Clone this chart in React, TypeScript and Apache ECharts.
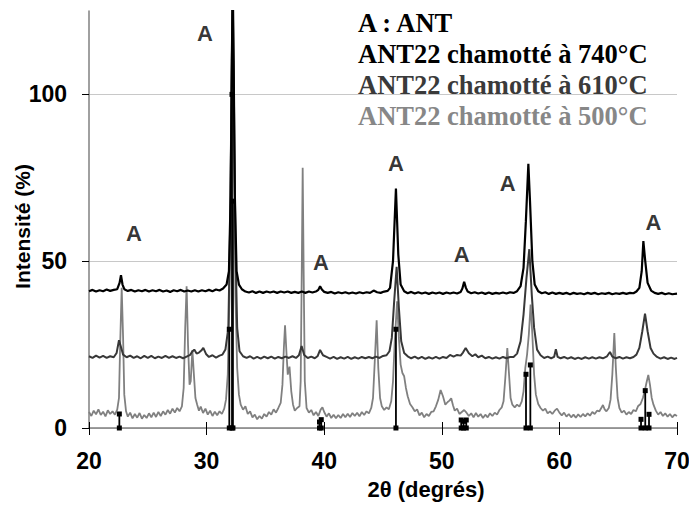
import React, { useEffect, useRef } from 'react';
import * as echarts from 'echarts';

const ARIAL = 'Arial, "Liberation Sans", Helvetica, sans-serif';
const TIMES = '"Times New Roman", "Liberation Serif", serif';

const xTickValues = [20, 30, 40, 50, 60, 70];
const yLabelValues = [0, 50, 100];

const legendLines = [
  'A : ANT',
  'ANT22 chamotté à 740°C',
  'ANT22 chamotté à 610°C',
  'ANT22 chamotté à 500°C',
];
const legendColors = ['#000000', '#000000', '#3a3a3a', '#878787'];

// "A" peak markers (2θ, intensity)
const peakLabels: [number, number][] = [
  [23.83, 58.4], [29.86, 118.3], [39.73, 49.7], [46.1, 79.3],
  [51.7, 52.1], [55.6, 73.4], [68.0, 61.7],
];

// ANT reference sticks
const stickX = [22.58, 31.93, 32.16, 32.24, 39.6, 39.75, 46.1, 51.65, 51.85, 52.08, 57.16, 57.53, 66.94, 67.3, 67.62];
const stickH = [4.2, 29.6, 100, 68, 1.8, 2.5, 29.6, 2.4, 2.0, 2.4, 16.1, 18.9, 2.6, 11.2, 4.1];

// ANT22 chamotté à 740°C
const trace740: [number, number][] = [
  [20.0, 41.0], [20.3, 41.4], [20.6, 40.9], [20.9, 41.3], [21.2, 41.0], [21.5, 41.5], [21.8, 41.1], [22.1, 41.4], [22.4, 41.6],
  [22.6, 43.5], [22.72, 45.8], [22.85, 43.0], [23.0, 41.6], [23.3, 41.1], [23.6, 41.4], [23.9, 40.9], [24.2, 41.3], [24.5, 41.0],
  [24.8, 41.4], [25.1, 40.9], [25.4, 41.3], [25.7, 41.0], [26.0, 41.4], [26.3, 40.9], [26.6, 41.2], [26.9, 40.8], [27.2, 41.3],
  [27.5, 41.0], [27.8, 41.4], [28.1, 40.9], [28.4, 41.2], [28.7, 40.9], [29.0, 41.3], [29.3, 40.9], [29.6, 41.3], [29.9, 41.0],
  [30.2, 41.4], [30.5, 41.0], [30.8, 41.5], [31.1, 41.2], [31.4, 41.8], [31.7, 43.0], [31.9, 47.0], [32.05, 70], [32.15, 110],
  [32.22, 135], [32.3, 110], [32.4, 70], [32.55, 47.0], [32.75, 43.0], [33.0, 41.6], [33.3, 40.9], [33.6, 40.6], [33.9, 41.0],
  [34.2, 40.5], [34.5, 40.9], [34.8, 40.5], [35.1, 40.9], [35.4, 40.6], [35.7, 40.9], [36.0, 40.5], [36.3, 40.9], [36.6, 40.6],
  [36.9, 40.9], [37.2, 40.5], [37.5, 40.8], [37.8, 40.5], [38.1, 40.9], [38.4, 40.5], [38.7, 40.9], [39.0, 40.6], [39.35, 41.0],
  [39.5, 41.4], [39.65, 42.5], [39.8, 41.5], [40.0, 40.8], [40.3, 40.5], [40.6, 40.8], [40.9, 40.3], [41.2, 40.7], [41.5, 40.4],
  [41.8, 40.7], [42.1, 40.3], [42.4, 40.6], [42.7, 40.3], [43.0, 40.7], [43.3, 40.4], [43.6, 40.7], [43.9, 40.5], [44.2, 41.2],
  [44.5, 40.7], [44.8, 40.5], [45.1, 40.9], [45.4, 41.1], [45.6, 42.0], [45.85, 50], [46.1, 71.8], [46.3, 52], [46.5, 43.0],
  [46.8, 41.0], [47.1, 40.4], [47.4, 40.8], [47.7, 40.3], [48.0, 40.7], [48.3, 40.3], [48.6, 40.6], [48.9, 40.2], [49.2, 40.6],
  [49.5, 40.3], [49.8, 40.6], [50.1, 40.2], [50.4, 40.6], [50.7, 40.3], [51.0, 40.6], [51.3, 40.3], [51.6, 40.8], [51.75, 41.8],
  [51.9, 43.8], [52.05, 42.0], [52.2, 40.9], [52.5, 40.4], [52.8, 40.7], [53.1, 40.3], [53.4, 40.6], [53.7, 40.2], [54.0, 40.6],
  [54.3, 40.2], [54.6, 40.5], [54.9, 40.3], [55.2, 40.6], [55.5, 40.3], [55.8, 40.7], [56.1, 40.5], [56.4, 41.0], [56.7, 42.5],
  [56.95, 48], [57.15, 62], [57.36, 79.2], [57.5, 68], [57.7, 50], [57.9, 43.0], [58.2, 41.0], [58.5, 40.4], [58.8, 40.7],
  [59.1, 40.2], [59.4, 40.6], [59.7, 40.2], [60.0, 40.5], [60.3, 40.2], [60.6, 40.5], [60.9, 40.1], [61.2, 40.5], [61.5, 40.2],
  [61.8, 40.4], [62.1, 40.1], [62.4, 40.5], [62.7, 40.2], [63.0, 40.5], [63.3, 40.1], [63.6, 40.4], [63.9, 40.2], [64.2, 40.5],
  [64.5, 40.1], [64.8, 40.4], [65.1, 40.2], [65.4, 40.5], [65.7, 40.2], [66.0, 40.5], [66.3, 40.4], [66.55, 40.9], [66.8, 42.0],
  [67.0, 47.0], [67.14, 56.0], [67.3, 50.0], [67.5, 43.5], [67.8, 41.2], [68.1, 40.5], [68.4, 40.2], [68.7, 40.5], [69.0, 40.1],
  [69.3, 40.4], [69.6, 40.1], [70.0, 40.3],
];

// ANT22 chamotté à 610°C
const trace610: [number, number][] = [
  [20.0, 21.5], [20.3, 21.0], [20.6, 21.7], [20.9, 21.1], [21.2, 21.6], [21.5, 21.0], [21.8, 21.5], [22.1, 21.2], [22.35, 22.5],
  [22.55, 26.3], [22.7, 24.5], [22.9, 22.0], [23.2, 21.2], [23.5, 21.7], [23.8, 21.0], [24.1, 21.5], [24.4, 20.9], [24.7, 21.6],
  [25.0, 21.0], [25.3, 21.6], [25.6, 20.9], [25.9, 21.4], [26.2, 21.0], [26.5, 21.6], [26.8, 21.0], [27.1, 21.5], [27.4, 21.0],
  [27.7, 21.4], [28.0, 20.9], [28.3, 21.4], [28.6, 21.9], [28.75, 22.8], [28.95, 23.5], [29.15, 22.3], [29.35, 22.6], [29.55, 23.2],
  [29.72, 24.0], [29.95, 22.2], [30.2, 21.3], [30.5, 21.8], [30.8, 21.1], [31.1, 21.7], [31.35, 22.0], [31.6, 23.5], [31.85, 30],
  [32.0, 60], [32.15, 110], [32.22, 130], [32.32, 100], [32.45, 55], [32.6, 30], [32.8, 23.0], [33.1, 21.5], [33.4, 21.0],
  [33.7, 21.5], [34.0, 20.8], [34.3, 21.3], [34.6, 20.8], [34.9, 21.4], [35.2, 20.9], [35.5, 21.4], [35.8, 20.8], [36.1, 21.3],
  [36.4, 20.9], [36.7, 21.4], [37.0, 21.0], [37.3, 21.5], [37.6, 21.0], [37.85, 21.8], [38.08, 24.6], [38.3, 21.9], [38.6, 21.0],
  [38.9, 21.4], [39.2, 20.9], [39.45, 21.6], [39.65, 23.4], [39.9, 21.8], [40.2, 21.3], [40.5, 20.8], [40.8, 21.3], [41.1, 20.7],
  [41.4, 21.2], [41.7, 20.8], [42.0, 21.3], [42.3, 20.7], [42.6, 21.2], [42.9, 20.8], [43.2, 21.3], [43.5, 20.9], [43.8, 21.3],
  [44.1, 20.9], [44.4, 21.4], [44.7, 21.0], [45.0, 21.6], [45.3, 21.8], [45.55, 23.0], [45.75, 27], [45.95, 38], [46.16, 48.3],
  [46.35, 36], [46.55, 26], [46.8, 22.5], [47.1, 21.5], [47.4, 20.9], [47.7, 21.4], [48.0, 20.8], [48.3, 21.3], [48.6, 20.7],
  [48.9, 21.2], [49.2, 20.8], [49.5, 21.3], [49.8, 20.8], [50.1, 21.3], [50.4, 21.0], [50.7, 21.9], [51.0, 21.4], [51.3, 21.9],
  [51.6, 21.7], [51.8, 22.6], [52.03, 24.0], [52.3, 22.4], [52.6, 21.5], [52.85, 22.1], [53.1, 21.2], [53.4, 21.7], [53.7, 20.9],
  [54.0, 21.3], [54.3, 20.8], [54.6, 21.2], [54.9, 20.8], [55.2, 21.3], [55.5, 20.9], [55.8, 21.3], [56.1, 21.3], [56.4, 22.3],
  [56.7, 26], [56.95, 34], [57.2, 45], [57.44, 53.6], [57.65, 40], [57.85, 30], [58.1, 23.5], [58.4, 21.8], [58.7, 21.0],
  [59.0, 21.4], [59.3, 20.9], [59.55, 21.3], [59.7, 23.6], [59.85, 21.3], [60.1, 20.9], [60.4, 21.3], [60.7, 20.8], [61.0, 21.2],
  [61.3, 20.7], [61.6, 21.1], [61.9, 20.7], [62.2, 21.2], [62.5, 20.8], [62.8, 21.2], [63.1, 20.8], [63.4, 21.2], [63.7, 20.9],
  [64.05, 21.5], [64.3, 22.8], [64.5, 21.4], [64.8, 20.9], [65.1, 21.3], [65.4, 20.8], [65.7, 21.2], [66.0, 20.9], [66.3, 21.3],
  [66.55, 22.0], [66.8, 24.0], [67.05, 29], [67.28, 34.3], [67.5, 29], [67.75, 24.0], [68.0, 22.3], [68.3, 21.3], [68.6, 20.8],
  [68.9, 21.2], [69.2, 20.7], [69.5, 21.1], [69.8, 20.7], [70.0, 21.0],
];

// ANT22 chamotté à 500°C
const trace500: [number, number][] = [
  [20.0, 4.8], [20.2, 3.6], [20.4, 5.2], [20.6, 4.1], [20.8, 5.6], [21.0, 3.9], [21.2, 4.9], [21.4, 3.5], [21.6, 5.3], [21.8, 4.2],
  [22.0, 5.0], [22.2, 4.0], [22.4, 5.5], [22.55, 9], [22.65, 25], [22.78, 42], [22.9, 27], [23.0, 10], [23.15, 5.0], [23.3, 3.4],
  [23.5, 4.6], [23.7, 2.9], [23.9, 4.2], [24.1, 3.1], [24.3, 4.5], [24.5, 2.8], [24.7, 3.9], [24.9, 3.0], [25.1, 4.4], [25.3, 3.2],
  [25.5, 4.6], [25.7, 3.3], [25.9, 4.8], [26.1, 3.6], [26.3, 5.0], [26.5, 4.0], [26.7, 5.4], [26.9, 4.3], [27.1, 5.8], [27.3, 4.6],
  [27.5, 6.0], [27.7, 5.0], [27.9, 6.5], [28.05, 12], [28.18, 30], [28.3, 42.5], [28.42, 25], [28.55, 13], [28.65, 14], [28.79, 23.4],
  [28.92, 16], [29.05, 9], [29.2, 7.0], [29.35, 5.2], [29.5, 6.4], [29.7, 4.5], [29.9, 5.8], [30.1, 4.0], [30.3, 5.2], [30.5, 3.6],
  [30.7, 4.9], [30.9, 3.8], [31.1, 5.0], [31.3, 4.2], [31.5, 5.8], [31.65, 8.5], [31.8, 16], [31.95, 40], [32.1, 100], [32.2, 130],
  [32.3, 100], [32.45, 40], [32.6, 18], [32.75, 10], [32.9, 7.0], [33.1, 5.5], [33.3, 6.5], [33.5, 4.2], [33.7, 5.0], [33.9, 3.2],
  [34.1, 4.0], [34.3, 2.6], [34.5, 3.6], [34.7, 2.8], [34.9, 4.2], [35.1, 3.4], [35.3, 4.8], [35.5, 4.0], [35.7, 5.6], [35.9, 4.6],
  [36.1, 6.0], [36.3, 7.5], [36.45, 13], [36.57, 24], [36.67, 30.8], [36.8, 22], [36.9, 16], [37.05, 18.4], [37.2, 11], [37.35, 7.0],
  [37.5, 5.2], [37.7, 6.0], [37.9, 6.5], [38.0, 14], [38.1, 50], [38.17, 78], [38.25, 48], [38.35, 14], [38.5, 6.0], [38.7, 4.6],
  [38.9, 5.4], [39.1, 3.8], [39.3, 4.8], [39.5, 3.6], [39.7, 5.5], [39.85, 6.2], [40.0, 4.8], [40.2, 3.4], [40.4, 4.4], [40.6, 3.0],
  [40.8, 4.0], [41.0, 2.9], [41.2, 3.9], [41.4, 3.0], [41.6, 4.2], [41.8, 3.2], [42.0, 4.3], [42.2, 3.3], [42.4, 4.5], [42.6, 3.6],
  [42.8, 4.6], [43.0, 3.5], [43.2, 4.8], [43.4, 3.9], [43.6, 5.0], [43.8, 4.4], [44.0, 6.0], [44.15, 9], [44.3, 20], [44.46, 32.3],
  [44.6, 18], [44.75, 9], [44.9, 6.5], [45.1, 5.4], [45.3, 6.2], [45.5, 5.6], [45.7, 8.0], [45.85, 14], [46.0, 26], [46.2, 38],
  [46.35, 27], [46.5, 19], [46.65, 16.5], [46.8, 15.5], [46.95, 12], [47.1, 9.5], [47.3, 7.2], [47.5, 6.2], [47.7, 5.0], [47.9, 5.6],
  [48.1, 3.8], [48.3, 4.6], [48.5, 3.2], [48.7, 4.2], [48.9, 3.6], [49.1, 4.8], [49.3, 5.0], [49.5, 6.5], [49.7, 8.5], [49.9, 11.4],
  [50.1, 9.5], [50.3, 7.0], [50.5, 7.8], [50.65, 8.2], [50.8, 8.9], [50.95, 6.8], [51.1, 5.2], [51.3, 5.8], [51.5, 4.2], [51.7, 4.8],
  [51.9, 5.4], [52.1, 4.6], [52.3, 3.6], [52.5, 4.4], [52.7, 3.2], [52.9, 4.5], [53.1, 3.4], [53.3, 4.2], [53.5, 3.0], [53.7, 4.0],
  [53.9, 3.2], [54.1, 4.4], [54.3, 3.6], [54.5, 4.6], [54.7, 4.0], [54.9, 5.4], [55.1, 6.2], [55.25, 8.0], [55.4, 15], [55.57, 24],
  [55.7, 17], [55.85, 9], [56.0, 7.0], [56.2, 6.2], [56.4, 7.0], [56.6, 6.4], [56.8, 8.0], [56.95, 11], [57.1, 18], [57.25, 22],
  [57.4, 28], [57.55, 37], [57.7, 28], [57.85, 16], [58.0, 10], [58.2, 7.2], [58.4, 6.0], [58.6, 5.2], [58.8, 5.8], [59.0, 4.4],
  [59.2, 5.0], [59.4, 4.2], [59.6, 5.2], [59.8, 5.8], [60.0, 4.6], [60.2, 3.8], [60.4, 4.6], [60.6, 3.4], [60.8, 4.2], [61.0, 3.2],
  [61.2, 4.0], [61.4, 3.1], [61.6, 4.1], [61.8, 3.3], [62.0, 4.2], [62.2, 3.5], [62.4, 4.4], [62.6, 3.7], [62.8, 4.8], [63.0, 4.2],
  [63.2, 5.2], [63.4, 5.0], [63.6, 6.2], [63.7, 6.9], [63.85, 5.6], [64.0, 5.0], [64.2, 6.0], [64.35, 8.5], [64.5, 16], [64.67, 28.5],
  [64.8, 18], [64.95, 9], [65.1, 6.0], [65.3, 4.6], [65.5, 5.2], [65.7, 4.0], [65.9, 4.8], [66.1, 4.2], [66.3, 5.4], [66.5, 5.0],
  [66.7, 6.6], [66.9, 7.2], [67.1, 9.0], [67.25, 11], [67.4, 13.5], [67.56, 15.9], [67.7, 13], [67.85, 9], [68.0, 7.0], [68.2, 5.2],
  [68.4, 4.0], [68.6, 4.8], [68.8, 3.6], [69.0, 4.4], [69.2, 3.4], [69.4, 4.2], [69.6, 3.2], [69.8, 4.0], [70.0, 3.6],
];

const boldArial = { fontFamily: ARIAL, fontWeight: 'bold' as const, color: '#000' };

export default function App() {
  const ref = useRef<HTMLDivElement>(null);

  useEffect(() => {
    if (!ref.current) return;
    const chart = echarts.init(ref.current, undefined, { renderer: 'svg' });

    const stickData = stickX.map((x, i) => [x, stickH[i]]);
    const legendY = [22.5, 54, 85, 116];

    chart.setOption({
      animation: false,
      backgroundColor: '#ffffff',
      grid: { left: 89, right: 12, top: 11, bottom: 77, containLabel: false, outerBoundsMode: 'none' },
      xAxis: [
        {
          type: 'value', min: 20, max: 70, interval: 10,
          axisLine: { onZero: false, lineStyle: { color: '#808080', width: 1.5 } },
          axisTick: { show: true, length: 7, customValues: xTickValues, lineStyle: { color: '#000', width: 1 } },
          axisLabel: { margin: 21, fontSize: 23, ...boldArial, customValues: xTickValues },
          splitLine: { show: false },
          name: '2θ (degrés)', nameLocation: 'middle', nameGap: 50, nameMoveOverlap: false,
          nameTextStyle: { fontSize: 22, ...boldArial, padding: [0, 0, 0, 86] },
        },
        {
          type: 'value', min: 20, max: 70, interval: 10, position: 'bottom',
          axisLine: { show: false, onZero: false },
          axisTick: { show: true, inside: true, length: 6, lineStyle: { color: '#000', width: 1 } },
          axisLabel: { show: false },
          splitLine: { show: false },
        },
      ],
      yAxis: {
        type: 'value', min: 0, max: 125, interval: 25,
        axisLine: { show: true, onZero: false, lineStyle: { color: '#808080', width: 1.5 } },
        axisTick: { show: true, length: 7, customValues: yLabelValues, lineStyle: { color: '#000', width: 1 } },
        axisLabel: { margin: 22, fontSize: 23, ...boldArial, customValues: yLabelValues },
        splitLine: { show: true, lineStyle: { color: '#c8c8c8', width: 1 } },
        name: 'Intensité (%)', nameLocation: 'middle', nameGap: 56, nameMoveOverlap: false,
        nameTextStyle: { fontSize: 21, ...boldArial, padding: [0, 14, 0, 0] },
      },
      graphic: legendLines.map((t, i) => ({
        type: 'text', x: 358, y: legendY[i], z: 100,
        style: {
          text: t, fill: legendColors[i], font: `bold 26.5px ${TIMES}`,
          textVerticalAlign: 'middle', verticalAlign: 'middle',
        },
      })),
      series: [
        {
          name: 'ANT22 chamotté à 500°C', type: 'line', data: trace500, showSymbol: false, symbol: 'none',
          lineStyle: { color: '#808080', width: 1.8 }, clip: true, z: 2,
        },
        {
          name: 'ANT22 chamotté à 610°C', type: 'line', data: trace610, showSymbol: false, symbol: 'none',
          lineStyle: { color: '#383838', width: 2 }, clip: true, z: 3,
        },
        {
          name: 'ANT22 chamotté à 740°C', type: 'line', data: trace740, showSymbol: false, symbol: 'none',
          lineStyle: { color: '#000000', width: 2.2 }, clip: true, z: 4,
        },
        {
          name: 'ANT', type: 'custom', data: stickData, z: 5,
          renderItem: (_p: any, api: any) => {
            const x = api.value(0);
            const h = api.value(1);
            const p0 = api.coord([x, 0]);
            const p1 = api.coord([x, h]);
            const s = 5;
            return {
              type: 'group',
              children: [
                { type: 'line', shape: { x1: p0[0], y1: p0[1], x2: p1[0], y2: p1[1] }, style: { stroke: '#000', lineWidth: 1.8 } },
                { type: 'rect', shape: { x: p0[0] - s / 2, y: p0[1] - s / 2, width: s, height: s }, style: { fill: '#000' } },
                { type: 'rect', shape: { x: p1[0] - s / 2, y: p1[1] - s / 2, width: s, height: s }, style: { fill: '#000' } },
              ],
            };
          },
        },
        {
          name: 'A', type: 'scatter', data: peakLabels, symbol: 'circle', symbolSize: 1,
          itemStyle: { color: 'rgba(0,0,0,0)' }, z: 6,
          label: {
            show: true, position: 'inside', formatter: 'A', fontSize: 22, ...boldArial,
          },
        },
      ],
    });

    return () => chart.dispose();
  }, []);

  return (
    <div
      ref={ref}
      style={{ position: 'fixed', left: 0, top: 0, width: 689, height: 505, background: '#fff' }}
    />
  );
}
